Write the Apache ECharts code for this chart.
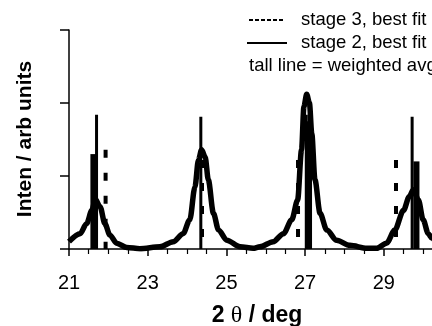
<!DOCTYPE html>
<html>
<head>
<meta charset="utf-8">
<script src="https://cdn.jsdelivr.net/npm/echarts@6/dist/echarts.min.js"></script>
<style>html,body{margin:0;padding:0;background:#fff;overflow:hidden;}#c{width:432px;height:326px;}</style>
</head>
<body>
<div id="c"></div>
<script>
// profile curve (stage 2 best fit), [2theta, intensity]
var curveData = [[21.0,0.10],[21.28,0.21],[21.45,0.35],[21.58,0.53],[21.67,0.68],[21.79,0.58],[21.91,0.35],[22.04,0.19],[22.21,0.08],[22.47,0.02],[22.80,0.005],[23.31,0.03],[23.65,0.10],[23.90,0.21],[24.07,0.40],[24.20,0.85],[24.29,1.22],[24.37,1.36],[24.46,1.26],[24.54,0.95],[24.67,0.49],[24.80,0.26],[25.01,0.12],[25.35,0.03],[25.68,0.01],[25.85,0.03],[26.19,0.10],[26.45,0.21],[26.66,0.40],[26.81,0.67],[26.91,1.36],[26.97,1.95],[27.04,2.12],[27.11,2.00],[27.17,1.58],[27.25,0.95],[27.38,0.49],[27.55,0.26],[27.80,0.12],[28.14,0.05],[28.57,0.01],[28.82,0.01],[29.07,0.08],[29.28,0.26],[29.50,0.53],[29.65,0.72],[29.75,0.81],[29.88,0.67],[30.00,0.40],[30.13,0.21],[30.22,0.15],[30.4,0.07],[30.6,0.04],[30.8,0.02],[31.0,0.01]];
// tall lines = weighted average
var tallPos = [21.70, 24.35, 27.03, 29.72];
var tallHeight = [1.84, 1.81, 1.84, 1.81];
// stage 2 sticks (solid)
var stage2Pos = [21.62, 27.10, 29.83];
var stage2Height = [1.30, 1.75, 1.20];
// stage 3 sticks (dashed)
var stage3Pos = [21.93, 24.38, 26.82, 29.31];
var stage3Height = [1.36, 1.22, 1.22, 1.22];
var xTicks = [21, 23, 25, 27, 29, 31];

function sticks(pos, h, width, type, z) {
  return pos.map(function (p, i) {
    return {
      type: 'line', data: [[p, h[i]], [p, 0]], symbol: 'none', silent: true, z: z,
      lineStyle: { color: '#000', width: width, type: type, cap: 'butt' }
    };
  });
}

var chart = echarts.init(document.getElementById('c'));
var series = [{
  type: 'line', data: curveData, symbol: 'none', smooth: 0.3, smoothMonotone: 'x', z: 3,
  lineStyle: { color: '#000', width: 5.5 }
}].concat(sticks(tallPos, tallHeight, 3, 'solid', 4))
  .concat(sticks(stage2Pos, stage2Height, 6, 'solid', 4))
  .concat(sticks(stage3Pos, stage3Height, 4, [8, 15], 4));

chart.setOption({
  animation: false,
  grid: { left: 69, top: 30, height: 219, width: 393.5, containLabel: false, outerBoundsMode: 'none' },
  xAxis: {
    type: 'value', min: xTicks[0], max: xTicks[xTicks.length - 1], interval: 2,
    axisLine: { lineStyle: { color: '#000', width: 1.5 } },
    axisTick: { show: true, length: 7, lineStyle: { color: '#000', width: 1.5 } },
    minorTick: { show: true, splitNumber: 4, length: 5, lineStyle: { color: '#000', width: 1.2 } },
    splitLine: { show: false },
    axisLabel: { color: '#000', fontSize: 20, fontFamily: 'Liberation Sans, Arial', margin: 24 }
  },
  yAxis: {
    type: 'value', min: 0, max: 3, interval: 1,
    axisLine: { show: true, lineStyle: { color: '#000', width: 1.5 } },
    axisTick: { show: true, length: 9, lineStyle: { color: '#000', width: 1.5 } },
    axisLabel: { show: false },
    splitLine: { show: false }
  },
  graphic: [
    { type: 'line', shape: { x1: 249, y1: 20, x2: 283, y2: 20 }, style: { stroke: '#000', lineWidth: 2, lineDash: [4, 2] } },
    { type: 'line', shape: { x1: 247, y1: 43, x2: 287, y2: 43 }, style: { stroke: '#000', lineWidth: 2 } },
    { type: 'text', x: 301, y: 20, style: { text: 'stage 3, best fit', font: '18.5px "Liberation Sans", Arial', fill: '#000', textVerticalAlign: 'middle' } },
    { type: 'text', x: 301, y: 43, style: { text: 'stage 2, best fit', font: '18.5px "Liberation Sans", Arial', fill: '#000', textVerticalAlign: 'middle' } },
    { type: 'text', x: 249, y: 66, style: { text: 'tall line = weighted avg', font: '18.5px "Liberation Sans", Arial', fill: '#000', textVerticalAlign: 'middle' } },
    { type: 'text', x: 25, y: 139, rotation: Math.PI / 2,
      style: { text: 'Inten / arb units', font: 'bold 21px "Liberation Sans", Arial', fill: '#000', textAlign: 'center', textVerticalAlign: 'middle' } },
    { type: 'text', x: 257, y: 316,
      style: { text: '{a|2 }{t|θ}{a| / deg}', textAlign: 'center', textVerticalAlign: 'middle',
        rich: { a: { font: 'bold 23px "Liberation Sans", Arial', fill: '#000' }, t: { font: '24px "Liberation Serif", serif', fill: '#000' } } } }
  ],
  series: series
});
</script>
</body>
</html>
